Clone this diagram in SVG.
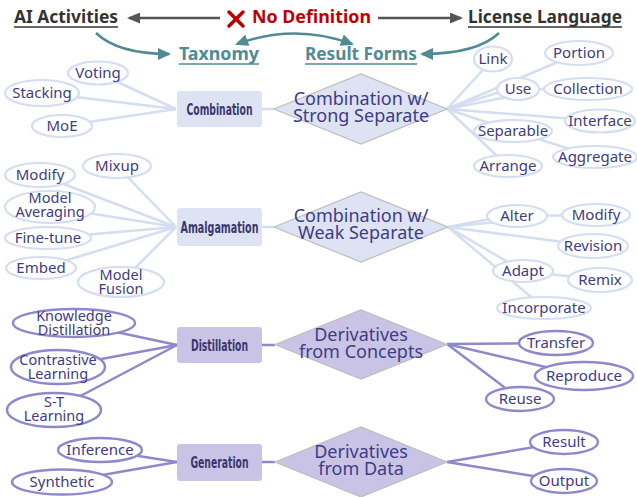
<svg xmlns="http://www.w3.org/2000/svg" width="637" height="497" viewBox="0 0 637 497">
<defs>
<marker id="ag" markerUnits="userSpaceOnUse" markerWidth="13" markerHeight="11" refX="11" refY="5.5" orient="auto"><path d="M0,0 L13,5.5 L0,11 z" fill="#555"/></marker>
<marker id="at" markerUnits="userSpaceOnUse" markerWidth="13" markerHeight="12" refX="11" refY="6" orient="auto"><path d="M0,0 L13,6 L0,12 z" fill="#4f8b92"/></marker>
<marker id="ats" markerUnits="userSpaceOnUse" markerWidth="13" markerHeight="12" refX="2" refY="6" orient="auto"><path d="M13,0 L0,6 L13,12 z" fill="#4f8b92"/></marker>
</defs>
<style>
.top{font-family:"Noto Sans","Open Sans","Liberation Sans",sans-serif;font-weight:bold;font-size:17.5px}
.lbl{font-family:"Noto Sans","Open Sans","Liberation Sans",sans-serif;font-size:15px;fill:#403c85;text-anchor:middle}
.lbl2{font-family:"Noto Sans","Open Sans","Liberation Sans",sans-serif;font-size:14.5px;fill:#403c85;text-anchor:middle}
.dia{font-family:"Noto Sans","Open Sans","Liberation Sans",sans-serif;font-size:18px;fill:#403c85;text-anchor:middle}
.box{font-family:"DejaVu Sans Condensed","DejaVu Sans",sans-serif;font-weight:bold;font-size:15.5px;fill:#3b3670;text-anchor:middle}
.la{stroke:#d5ddf0;stroke-width:2.5;fill:none}
.ld{stroke:#8f88cb;stroke-width:2.5;fill:none}
.ea{fill:#fff;stroke:#d5ddf0;stroke-width:2.2}
.ed{fill:#fff;stroke:#8f88cb;stroke-width:2.4}
.ba{fill:#dde3f2}
.bd{fill:#c9c4e5}
.da{fill:#dde3f2;stroke:#bdbdbd;stroke-width:1.2}
.dd{fill:#c9c4e5;stroke:#bdbdbd;stroke-width:1.2}
.teal{stroke:#4f8b92;stroke-width:2.5;fill:none}
</style>

<g id="header">
<text class="top" x="14" y="23" fill="#333" textLength="104" lengthAdjust="spacingAndGlyphs">AI Activities</text>
<line x1="14" y1="27" x2="118" y2="27" stroke="#333" stroke-width="1.5"/>
<g id="xmark" stroke="#c00000" stroke-width="3.5" stroke-linecap="round"><line x1="229" y1="12" x2="243" y2="26"/><line x1="243" y1="12" x2="229" y2="26"/></g>
<text class="top" x="252" y="23" fill="#c00000" textLength="119" lengthAdjust="spacingAndGlyphs">No Definition</text>
<text class="top" x="468" y="23" fill="#333" textLength="154" lengthAdjust="spacingAndGlyphs">License Language</text>
<line x1="468" y1="27" x2="622" y2="27" stroke="#333" stroke-width="1.5"/>
<text class="top" x="179" y="60" fill="#4f8b92" textLength="80" lengthAdjust="spacingAndGlyphs">Taxnomy</text>
<line x1="179" y1="64" x2="259" y2="64" stroke="#4f8b92" stroke-width="1.5"/>
<text class="top" x="305" y="60" fill="#4f8b92" textLength="112" lengthAdjust="spacingAndGlyphs">Result Forms</text>
<line x1="305" y1="64" x2="417" y2="64" stroke="#4f8b92" stroke-width="1.5"/>
</g>

<g id="header-arrows">
<line x1="220" y1="18" x2="129" y2="18" stroke="#555" stroke-width="2.5" marker-end="url(#ag)"/>
<line x1="378" y1="18" x2="461" y2="18" stroke="#555" stroke-width="2.5" marker-end="url(#ag)"/>
<path class="teal" d="M96,33 Q118,54 169,54" marker-end="url(#at)"/>
<path class="teal" d="M499,33 Q477,54 422,54" marker-end="url(#at)"/>
<path class="teal" d="M237,44 Q295,23 352,44" marker-start="url(#ats)" marker-end="url(#at)"/>
</g>

<g id="connectors">
<line class="la" x1="176" y1="109" x2="98" y2="73"/>
<line class="la" x1="176" y1="109" x2="42" y2="93"/>
<line class="la" x1="176" y1="109" x2="62" y2="126"/>
<line class="la" x1="262" y1="109" x2="274" y2="109"/>
<line class="la" x1="447" y1="109" x2="493" y2="59"/>
<line class="la" x1="447" y1="109" x2="579" y2="53"/>
<line class="la" x1="447" y1="109" x2="518" y2="86"/>
<line class="la" x1="447" y1="109" x2="518" y2="95"/>
<line class="la" x1="518" y1="89" x2="588" y2="89"/>
<line class="la" x1="447" y1="109" x2="600" y2="121"/>
<line class="la" x1="447" y1="109" x2="513" y2="131"/>
<line class="la" x1="513" y1="131" x2="595" y2="157"/>
<line class="la" x1="447" y1="109" x2="508" y2="166"/>
<line class="la" x1="176" y1="227" x2="117" y2="166"/>
<line class="la" x1="176" y1="227" x2="40" y2="175"/>
<line class="la" x1="176" y1="227" x2="50" y2="207"/>
<line class="la" x1="176" y1="227" x2="48" y2="238"/>
<line class="la" x1="176" y1="227" x2="41" y2="268"/>
<line class="la" x1="176" y1="227" x2="121" y2="282"/>
<line class="la" x1="262" y1="227" x2="274" y2="227"/>
<line class="la" x1="448" y1="227" x2="517" y2="214"/>
<line class="la" x1="448" y1="227" x2="517" y2="220"/>
<line class="la" x1="517" y1="216" x2="596" y2="215"/>
<line class="la" x1="448" y1="227" x2="593" y2="246"/>
<line class="la" x1="448" y1="227" x2="523" y2="271"/>
<line class="la" x1="523" y1="271" x2="600" y2="280"/>
<line class="la" x1="448" y1="227" x2="544" y2="308"/>
<line class="ld" x1="177" y1="345" x2="74" y2="323"/>
<line class="ld" x1="177" y1="345" x2="58" y2="367"/>
<line class="ld" x1="177" y1="345" x2="54" y2="410"/>
<line class="ld" x1="262" y1="345" x2="275" y2="345"/>
<line class="ld" x1="447" y1="344" x2="556" y2="343"/>
<line class="ld" x1="447" y1="344" x2="584" y2="376"/>
<line class="ld" x1="447" y1="344" x2="520" y2="399"/>
<line class="ld" x1="177" y1="462" x2="100" y2="450"/>
<line class="ld" x1="177" y1="462" x2="62" y2="482"/>
<line class="ld" x1="262" y1="462" x2="275" y2="462"/>
<line class="ld" x1="447" y1="462" x2="564" y2="442"/>
<line class="ld" x1="447" y1="462" x2="564" y2="481"/>
</g>

<g id="combination"><rect class="ba" x="177" y="91" width="85" height="36" rx="3"/><text class="box" x="219.5" y="115" textLength="66" lengthAdjust="spacingAndGlyphs">Combination</text></g>
<g id="strong-separate"><polygon class="da" points="274,109 361,74 447,109 361,144"/><text class="dia"><tspan x="361" y="104.5">Combination w/</tspan><tspan x="361" y="122">Strong Separate</tspan></text></g>
<g id="voting"><ellipse class="ea" cx="98" cy="73" rx="30" ry="11.5"/><text class="lbl" x="98" y="78">Voting</text></g>
<g id="stacking"><ellipse class="ea" cx="42" cy="93" rx="37" ry="13"/><text class="lbl" x="42" y="98">Stacking</text></g>
<g id="moe"><ellipse class="ea" cx="62" cy="126" rx="30" ry="11"/><text class="lbl" x="62" y="131">MoE</text></g>
<g id="link"><ellipse class="ea" cx="493" cy="59" rx="19" ry="12.5"/><text class="lbl" x="493" y="64">Link</text></g>
<g id="portion"><ellipse class="ea" cx="579" cy="53" rx="34" ry="12"/><text class="lbl" x="579" y="58">Portion</text></g>
<g id="use"><ellipse class="ea" cx="518" cy="89" rx="21" ry="11"/><text class="lbl" x="518" y="94">Use</text></g>
<g id="collection"><ellipse class="ea" cx="588" cy="89" rx="44" ry="11"/><text class="lbl" x="588" y="94">Collection</text></g>
<g id="interface"><ellipse class="ea" cx="600" cy="121" rx="35" ry="11.5"/><text class="lbl" x="600" y="126">Interface</text></g>
<g id="separable"><ellipse class="ea" cx="513" cy="131" rx="39" ry="11"/><text class="lbl" x="513" y="136">Separable</text></g>
<g id="aggregate"><ellipse class="ea" cx="595" cy="157" rx="42" ry="11"/><text class="lbl" x="595" y="162">Aggregate</text></g>
<g id="arrange"><ellipse class="ea" cx="508" cy="166" rx="34" ry="11"/><text class="lbl" x="508" y="171">Arrange</text></g>

<g id="amalgamation"><rect class="ba" x="177" y="208" width="85" height="38" rx="3"/><text class="box" x="219.5" y="233" textLength="78" lengthAdjust="spacingAndGlyphs">Amalgamation</text></g>
<g id="weak-separate"><polygon class="da" points="274,227 361,192 448,227 361,262"/><text class="dia"><tspan x="361" y="221.5">Combination w/</tspan><tspan x="361" y="239">Weak Separate</tspan></text></g>
<g id="mixup"><ellipse class="ea" cx="117" cy="166" rx="34" ry="12"/><text class="lbl" x="117" y="171">Mixup</text></g>
<g id="modify-l"><ellipse class="ea" cx="40" cy="175" rx="35" ry="12"/><text class="lbl" x="40" y="180">Modify</text></g>
<g id="model-averaging"><ellipse class="ea" cx="50" cy="207" rx="45" ry="16"/><text class="lbl2"><tspan x="50" y="202.5">Model</tspan><tspan x="50" y="217">Averaging</tspan></text></g>
<g id="fine-tune"><ellipse class="ea" cx="48" cy="238" rx="43" ry="11"/><text class="lbl" x="48" y="243">Fine-tune</text></g>
<g id="embed"><ellipse class="ea" cx="41" cy="268" rx="35" ry="11"/><text class="lbl" x="41" y="273">Embed</text></g>
<g id="model-fusion"><ellipse class="ea" cx="121" cy="282" rx="43" ry="15"/><text class="lbl2"><tspan x="121" y="279.5">Model</tspan><tspan x="121" y="294">Fusion</tspan></text></g>
<g id="alter"><ellipse class="ea" cx="517" cy="216" rx="30" ry="11"/><text class="lbl" x="517" y="221">Alter</text></g>
<g id="modify-r"><ellipse class="ea" cx="596" cy="215" rx="34" ry="11"/><text class="lbl" x="596" y="220">Modify</text></g>
<g id="revision"><ellipse class="ea" cx="593" cy="246" rx="35" ry="12"/><text class="lbl" x="593" y="251">Revision</text></g>
<g id="adapt"><ellipse class="ea" cx="523" cy="271" rx="30" ry="11"/><text class="lbl" x="523" y="276">Adapt</text></g>
<g id="remix"><ellipse class="ea" cx="600" cy="280" rx="32" ry="12"/><text class="lbl" x="600" y="285">Remix</text></g>
<g id="incorporate"><ellipse class="ea" cx="544" cy="308" rx="47" ry="11"/><text class="lbl" x="544" y="313">Incorporate</text></g>

<g id="distillation"><rect class="bd" x="177" y="327" width="85" height="36" rx="3"/><text class="box" x="219.5" y="351" textLength="57" lengthAdjust="spacingAndGlyphs">Distillation</text></g>
<g id="concepts"><polygon class="dd" points="275,344.5 361,310 447,344.5 361,379"/><text class="dia"><tspan x="361" y="340.5">Derivatives</tspan><tspan x="361" y="358">from Concepts</tspan></text></g>
<g id="knowledge-distillation"><ellipse class="ed" cx="74" cy="323" rx="61" ry="14"/><text class="lbl2"><tspan x="74" y="320.5">Knowledge</tspan><tspan x="74" y="335">Distillation</tspan></text></g>
<g id="contrastive-learning"><ellipse class="ed" cx="58" cy="367" rx="47" ry="17"/><text class="lbl2"><tspan x="58" y="364.5">Contrastive</tspan><tspan x="58" y="379">Learning</tspan></text></g>
<g id="st-learning"><ellipse class="ed" cx="54" cy="410" rx="47" ry="17"/><text class="lbl2"><tspan x="54" y="406.5">S-T</tspan><tspan x="54" y="421">Learning</tspan></text></g>
<g id="transfer"><ellipse class="ed" cx="556" cy="343" rx="37" ry="12"/><text class="lbl" x="556" y="348">Transfer</text></g>
<g id="reproduce"><ellipse class="ed" cx="584" cy="376" rx="49" ry="14"/><text class="lbl" x="584" y="381">Reproduce</text></g>
<g id="reuse"><ellipse class="ed" cx="520" cy="399" rx="34" ry="12"/><text class="lbl" x="520" y="404">Reuse</text></g>

<g id="generation"><rect class="bd" x="177" y="444" width="85" height="37" rx="3"/><text class="box" x="219.5" y="468" textLength="58" lengthAdjust="spacingAndGlyphs">Generation</text></g>
<g id="data"><polygon class="dd" points="275,462 361,427 447,462 361,497"/><text class="dia"><tspan x="361" y="457.5">Derivatives</tspan><tspan x="361" y="475">from Data</tspan></text></g>
<g id="inference"><ellipse class="ed" cx="100" cy="450" rx="42" ry="12"/><text class="lbl" x="100" y="455">Inference</text></g>
<g id="synthetic"><ellipse class="ed" cx="62" cy="482" rx="50" ry="12.5"/><text class="lbl" x="62" y="487">Synthetic</text></g>
<g id="result"><ellipse class="ed" cx="564" cy="442" rx="34" ry="12"/><text class="lbl" x="564" y="447">Result</text></g>
<g id="output"><ellipse class="ed" cx="564" cy="481" rx="33" ry="12"/><text class="lbl" x="564" y="486">Output</text></g>
</svg>
